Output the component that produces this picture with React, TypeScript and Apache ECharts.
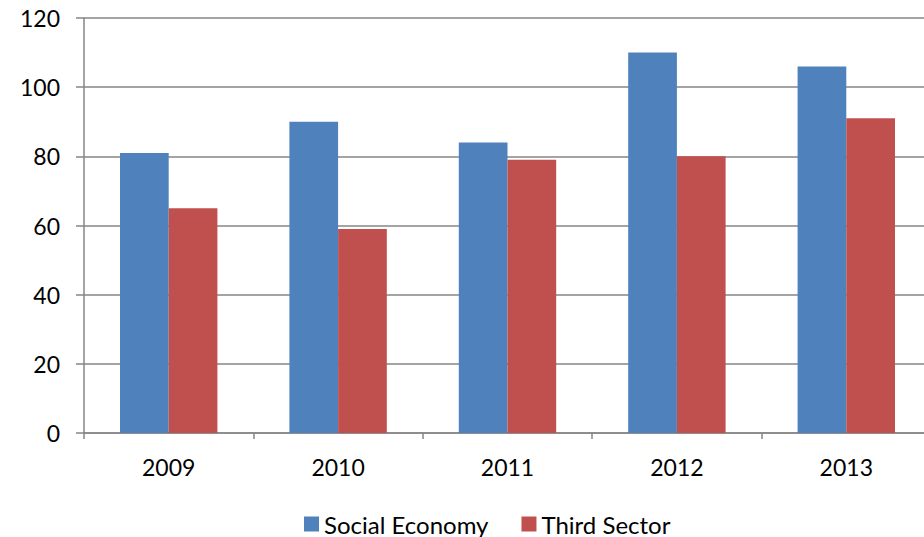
import React, { useEffect, useRef } from "react";
import * as echarts from "echarts";

const categories = ["2009", "2010", "2011", "2012", "2013"];
const socialEconomy = [81, 90, 84, 110, 106];
const thirdSector = [65, 59, 79, 80, 91];
const yTicks = { min: 0, max: 120, interval: 20 };

export default function App() {
  const ref = useRef<HTMLDivElement>(null);
  useEffect(() => {
    if (!ref.current) return;
    const chart = echarts.init(ref.current, undefined, { renderer: "svg" });
    const font = "Lato, 'Open Sans', sans-serif";
    chart.setOption({
      animation: false,
      backgroundColor: "#ffffff",
      grid: { left: 84, top: 18, bottom: 104, right: 0, containLabel: false },
      legend: {
        top: 507,
        left: 299,
        itemWidth: 15,
        itemHeight: 15,
        itemGap: 33,
        icon: "rect",
        textStyle: { fontFamily: font, fontSize: 24, color: "#000" },
        data: ["Social Economy", "Third Sector"],
      },
      xAxis: {
        type: "category",
        data: categories,
        axisLine: { lineStyle: { color: "#868686", width: 1.5 } },
        axisTick: { show: true, length: 6, alignWithLabel: false, lineStyle: { color: "#868686", width: 1.5 } },
        axisLabel: { color: "#000", fontFamily: font, fontSize: 23, margin: 22 },
        splitLine: { show: false },
      },
      yAxis: {
        type: "value",
        min: yTicks.min,
        max: yTicks.max,
        interval: yTicks.interval,
        axisLine: { show: true, lineStyle: { color: "#868686", width: 1.5 } },
        axisTick: { show: true, length: 8, lineStyle: { color: "#868686", width: 1.5 } },
        axisLabel: { color: "#000", fontFamily: font, fontSize: 23, margin: 24 },
        splitLine: { show: true, lineStyle: { color: "#868686", width: 1.5 } },
      },
      series: [
        {
          name: "Social Economy",
          type: "bar",
          data: socialEconomy,
          itemStyle: { color: "#4F81BD" },
          barGap: "0%",
          barCategoryGap: "42.5%",
        },
        {
          name: "Third Sector",
          type: "bar",
          data: thirdSector,
          itemStyle: { color: "#C0504D" },
          barGap: "0%",
          barCategoryGap: "42.5%",
        },
      ],
    });
    return () => chart.dispose();
  }, []);
  return (
    <div style={{ width: 924, height: 537, position: "absolute", left: 0, top: 0, overflow: "hidden", background: "#fff" }}>
      <div ref={ref} style={{ width: 931, height: 537 }} />
    </div>
  );
}
